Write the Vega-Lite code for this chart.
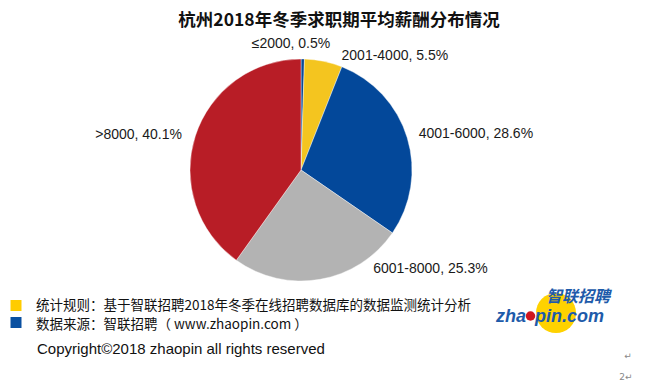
{
  "$schema": "https://vega.github.io/schema/vega-lite/v6.json",
  "width": 602,
  "height": 340,
  "autosize": {"type": "none"},
  "padding": {"left": 0, "top": 0, "right": 54, "bottom": 43},
  "background": "#ffffff",
  "config": {"view": {"stroke": null}},
  "data": {
    "values": [
      {"idx": 1, "cat": "≤2000", "value": 0.5, "label": "≤2000, 0.5%"},
      {"idx": 2, "cat": "2001-4000", "value": 5.5, "label": "2001-4000, 5.5%"},
      {"idx": 3, "cat": "4001-6000", "value": 28.6, "label": "4001-6000, 28.6%"},
      {"idx": 4, "cat": "6001-8000", "value": 25.3, "label": "6001-8000, 25.3%"},
      {"idx": 5, "cat": ">8000", "value": 40.1, "label": ">8000, 40.1%"}
    ]
  },
  "layer": [
    {
      "mark": {"type": "arc", "outerRadius": 111, "stroke": "#ffffff", "strokeWidth": 0.4},
      "encoding": {
        "theta": {"field": "value", "type": "quantitative", "stack": true},
        "order": {"field": "idx", "type": "quantitative"},
        "color": {
          "field": "cat",
          "type": "nominal",
          "legend": null,
          "scale": {
            "domain": ["≤2000", "2001-4000", "4001-6000", "6001-8000", ">8000"],
            "range": ["#0A4A97", "#F4C51F", "#03489A", "#B3B3B3", "#B81D26"]
          }
        }
      }
    },
    {
      "mark": {"type": "text", "radius": 126, "dx": -12, "align": "center", "baseline": "middle", "font": "Liberation Sans", "fontSize": 14, "color": "#1a1a1a"},
      "encoding": {
        "theta": {"field": "value", "type": "quantitative", "stack": true},
        "order": {"field": "idx", "type": "quantitative"},
        "detail": {"field": "cat", "type": "nominal"},
        "text": {"condition": {"test": "datum.idx === 1", "field": "label"}, "value": ""}
      }
    },
    {
      "mark": {"type": "text", "radius": 116, "dx": 17, "align": "left", "baseline": "middle", "font": "Liberation Sans", "fontSize": 14, "color": "#1a1a1a"},
      "encoding": {
        "theta": {"field": "value", "type": "quantitative", "stack": true},
        "order": {"field": "idx", "type": "quantitative"},
        "detail": {"field": "cat", "type": "nominal"},
        "text": {"condition": {"test": "datum.idx === 2", "field": "label"}, "value": ""}
      }
    },
    {
      "mark": {"type": "text", "radius": 123, "align": "left", "baseline": "middle", "font": "Liberation Sans", "fontSize": 14, "color": "#1a1a1a"},
      "encoding": {
        "theta": {"field": "value", "type": "quantitative", "stack": true},
        "order": {"field": "idx", "type": "quantitative"},
        "detail": {"field": "cat", "type": "nominal"},
        "text": {"condition": {"test": "datum.idx === 3", "field": "label"}, "value": ""}
      }
    },
    {
      "mark": {"type": "text", "radius": 100, "dx": 55, "align": "left", "baseline": "middle", "font": "Liberation Sans", "fontSize": 14, "color": "#1a1a1a"},
      "encoding": {
        "theta": {"field": "value", "type": "quantitative", "stack": true},
        "order": {"field": "idx", "type": "quantitative"},
        "detail": {"field": "cat", "type": "nominal"},
        "text": {"condition": {"test": "datum.idx === 4", "field": "label"}, "value": ""}
      }
    },
    {
      "mark": {"type": "text", "radius": 125, "dy": 3, "align": "right", "baseline": "middle", "font": "Liberation Sans", "fontSize": 14, "color": "#1a1a1a"},
      "encoding": {
        "theta": {"field": "value", "type": "quantitative", "stack": true},
        "order": {"field": "idx", "type": "quantitative"},
        "detail": {"field": "cat", "type": "nominal"},
        "text": {"condition": {"test": "datum.idx === 5", "field": "label"}, "value": ""}
      }
    },
    {
      "data": {"values": [{"t": "杭州2018年冬季求职期平均薪酬分布情况"}]},
      "mark": {"type": "text", "x": 339, "y": 21, "align": "center", "baseline": "middle", "font": "Noto Sans CJK SC", "fontWeight": "bold", "fontSize": 17.5, "color": "#111111"},
      "encoding": {"text": {"field": "t"}}
    },
    {
      "data": {"values": [{"t": "统计规则：基于智联招聘2018年冬季在线招聘数据库的数据监测统计分析"}]},
      "mark": {"type": "text", "x": 36, "y": 306, "align": "left", "baseline": "middle", "font": "Noto Sans CJK SC", "fontSize": 13.5, "color": "#111111"},
      "encoding": {"text": {"field": "t"}}
    },
    {
      "data": {"values": [{"t": "数据来源：智联招聘（ www.zhaopin.com ）"}]},
      "mark": {"type": "text", "x": 36, "y": 325, "align": "left", "baseline": "middle", "font": "Noto Sans CJK SC", "fontSize": 13.5, "color": "#111111"},
      "encoding": {"text": {"field": "t"}}
    },
    {
      "data": {"values": [{"c": "yellow"}]},
      "mark": {"type": "point", "shape": "square", "filled": true, "size": 121, "x": 16, "y": 305.5, "color": "#FFCC00", "opacity": 1},
      "encoding": {}
    },
    {
      "data": {"values": [{"c": "blue"}]},
      "mark": {"type": "point", "shape": "square", "filled": true, "size": 121, "x": 16, "y": 322.5, "color": "#0A50A1", "opacity": 1},
      "encoding": {}
    },
    {
      "data": {"values": [{"c": "line"}]},
      "mark": {"type": "rule", "x": 12, "x2": 490, "y": 334.5, "color": "#000000", "strokeWidth": 1},
      "encoding": {}
    },
    {
      "data": {"values": [{"t": "Copyright©2018 zhaopin all rights reserved"}]},
      "mark": {"type": "text", "x": 37, "y": 349, "align": "left", "baseline": "middle", "font": "Liberation Sans", "fontSize": 15, "color": "#111111"},
      "encoding": {"text": {"field": "t"}}
    },
    {
      "data": {"values": [{"t": "↵"}]},
      "mark": {"type": "text", "x": 628, "y": 356, "align": "center", "baseline": "middle", "font": "DejaVu Sans", "fontSize": 9, "color": "#888888"},
      "encoding": {"text": {"field": "t"}}
    },
    {
      "data": {"values": [{"t": "2↵"}]},
      "mark": {"type": "text", "x": 626, "y": 377, "align": "center", "baseline": "middle", "font": "DejaVu Sans", "fontSize": 9, "color": "#888888"},
      "encoding": {"text": {"field": "t"}}
    },
    {
      "data": {"values": [{"c": "logo circle"}]},
      "mark": {"type": "point", "shape": "circle", "filled": true, "size": 1600, "x": 556, "y": 313, "color": "#FFD200", "opacity": 1},
      "encoding": {}
    },
    {
      "data": {"values": [{"t": "智联招聘"}]},
      "mark": {"type": "text", "x": 578, "y": 297, "align": "center", "baseline": "middle", "font": "Noto Sans CJK SC", "fontWeight": "bold", "fontStyle": "italic", "fontSize": 16, "color": "#1E5BAA"},
      "encoding": {"text": {"field": "t"}}
    },
    {
      "data": {"values": [{"t": "zha"}]},
      "mark": {"type": "text", "x": 526, "y": 317, "align": "right", "baseline": "middle", "font": "Liberation Sans", "fontWeight": "bold", "fontStyle": "italic", "fontSize": 18, "color": "#1E5BAA"},
      "encoding": {"text": {"field": "t"}}
    },
    {
      "data": {"values": [{"t": "pin.com"}]},
      "mark": {"type": "text", "x": 535, "y": 317, "align": "left", "baseline": "middle", "font": "Liberation Sans", "fontWeight": "bold", "fontStyle": "italic", "fontSize": 18, "color": "#1E5BAA"},
      "encoding": {"text": {"field": "t"}}
    },
    {
      "data": {"values": [{"c": "logo ball"}]},
      "mark": {"type": "point", "shape": "circle", "filled": true, "size": 90, "x": 530.5, "y": 316, "color": "#D0161E", "opacity": 1},
      "encoding": {}
    }
  ]
}
